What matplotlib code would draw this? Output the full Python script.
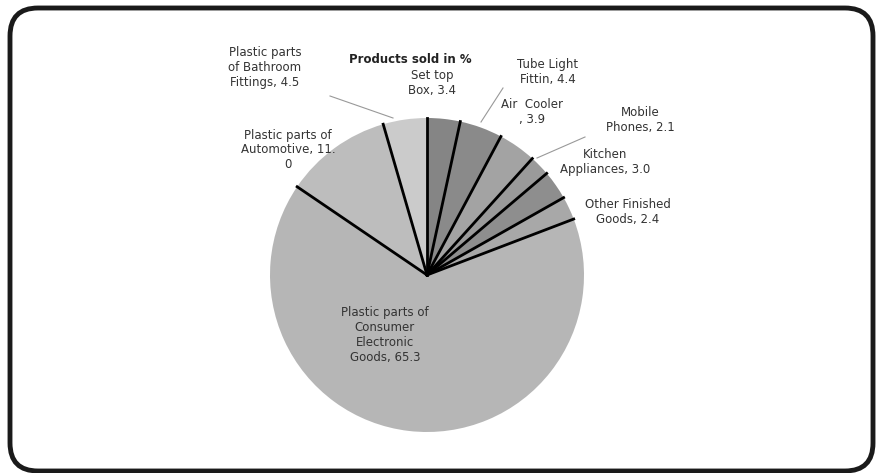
import numpy as np
import matplotlib.pyplot as plt
from matplotlib.patches import FancyBboxPatch

plt.rcParams['font.family'] = ['Liberation Sans Narrow', 'DejaVu Sans']

# dados do grafico (em %)
produtos = ["Set top Box", "Tube Light Fittin", "Air Cooler", "Mobile Phones",
            "Kitchen Appliances", "Other Finished Goods",
            "Plastic parts of Consumer Electronic Goods", "Plastic parts of Automotive",
            "Plastic parts of Bathroom Fittings"]
valores = [3.4, 4.4, 3.9, 2.1, 3.0, 2.4, 65.3, 11.0, 4.5]
textos = ["Set top\nBox, 3.4", "Tube Light\nFittin, 4.4", "Air  Cooler\n, 3.9", "Mobile\nPhones, 2.1",
          "Kitchen\nAppliances, 3.0", "Other Finished\nGoods, 2.4",
          "Plastic parts of\nConsumer\nElectronic\nGoods, 65.3", "Plastic parts of\nAutomotive, 11.\n0",
          "Plastic parts\nof Bathroom\nFittings, 4.5"]
cores = ["#858585", "#8a8a8a", "#a3a3a3", "#9a9a9a", "#8e8e8e", "#a8a8a8",
         "#b6b6b6", "#bdbdbd", "#cbcbcb"]

W, H = 878, 473
fig = plt.figure(figsize=(W / 100, H / 100), dpi=100)
ax = fig.add_axes([0, 0, 1, 1])

cx, cy, r = 427, H - 275, 157
wedges, _ = ax.pie(valores, colors=cores, startangle=90, counterclock=False,
                   center=(cx, cy), radius=r, wedgeprops=dict(lw=0), frame=True)
ax.set_xlim(0, W)
ax.set_ylim(0, H)
ax.set_aspect("auto")
ax.axis("off")

# moldura arredondada
moldura = FancyBboxPatch((10, 2), W - 15, H - 10, boxstyle="round,pad=0,rounding_size=28",
                         fill=False, lw=3.5, ec="#1a1a1a", clip_on=False)
ax.add_patch(moldura)

# linhas pretas entre as fatias
for w in wedges:
    ang = np.deg2rad(w.theta1)
    ax.plot([cx, cx + r * np.cos(ang)], [cy, cy + r * np.sin(ang)], color="black", lw=2)

ax.text(410, H - 60, "Products sold in %", ha="center", va="center", fontsize=8.5, fontweight="bold",
        color="#222222")

# posicoes dos rotulos (px)
pos = [(432, 83), (548, 72), (532, 112), (640, 120), (605, 162), (628, 212),
       (385, 335), (288, 150), (265, 68)]
for t, (x, y) in zip(textos, pos):
    ax.text(x, H - y, t, ha="center", va="center", fontsize=8.5, color="#333333",
            linespacing=1.2)

# linhas guia
guias = [((330, 96), (393, 118)), ((503, 88), (481, 122)), ((585, 137), (537, 158))]
for (x1, y1), (x2, y2) in guias:
    ax.plot([x1, x2], [H - y1, H - y2], color="#999999", lw=0.8)

plt.savefig("out.png", dpi=100)
